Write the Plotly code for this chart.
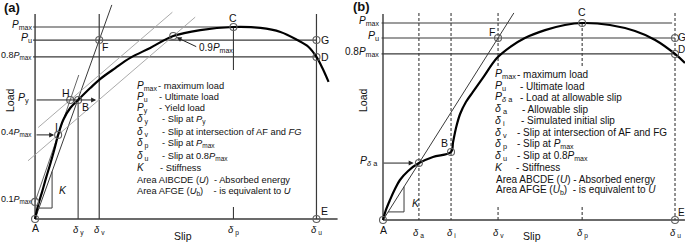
import plotly.graph_objects as go

# ---------------- Panel (a) data (schematic units: slip δu = 100, load Pmax = 100)
a_curve_slip = [0, 1.1, 2.5, 3.9, 5.3, 6.8, 8.2, 10.0, 12.5, 15.3, 19.6, 23.1, 28.5, 33.8,
                40.9, 49.1, 58.7, 70.5, 80.1, 87.2, 93.2, 97.2, 100, 102.1, 104.3]
a_curve_load = [0, 7.3, 14.1, 21.4, 28.1, 35.9, 43.8, 51.6, 57.8, 62.0, 68.2, 72.9, 78.6, 83.9,
                89.1, 95.3, 98.4, 100, 99.5, 97.4, 93.2, 89.6, 84.4, 78.6, 71.4]
a_load_levels = [100, 93.2, 84.4, 62.0, 43.8, 8.9, 95.3]   # Pmax, Pu, 0.8Pmax, Py, 0.4Pmax, 0.1Pmax, 0.9Pmax
a_slip_marks = [15.3, 22.8, 70.5, 100]                     # δy, δv, δp, δu
a_point_I = [8.2, 43.8]
a_point_H = [12.5, 62.0]

# ---------------- Panel (b) data
b_curve_slip = [0, 1.0, 2.4, 4.1, 5.8, 8.6, 12.3, 17.1, 23.3, 24.0, 25.0, 26.4, 28.4, 30.8,
                34.2, 39.0, 43.5, 48.6, 55.5, 62.3, 68.2, 77.7, 86.3, 93.2, 100, 103.4]
b_curve_load = [0, 5.1, 10.2, 15.7, 20.3, 24.9, 28.9, 32.0, 34.5, 39.6, 46.7, 53.8, 59.9, 65.0,
                72.1, 82.2, 87.8, 92.4, 96.4, 99.0, 100, 99.0, 95.9, 91.4, 84.3, 79.7]
b_load_levels = [100, 92.4, 84.3, 28.9]          # Pmax, Pu, 0.8Pmax, Pδa
b_slip_marks = [12.3, 23.3, 39.4, 68.2, 100]     # δa, δi, δv, δp, δu
b_point_B = [23.3, 34.5]

FONT = "Liberation Sans, Arial, sans-serif"
LINE = "#3a3a3a"
GRAY = "#a0a0a0"
MK = "#606060"

fig = go.Figure()
ann = []

def line(xs, ys, color=LINE, width=1.0, dash="solid", ax="x", ay="y"):
    fig.add_trace(go.Scatter(x=xs, y=ys, mode="lines", xaxis=ax, yaxis=ay,
                             line=dict(color=color, width=width, dash=dash),
                             hoverinfo="skip", showlegend=False))

def circles(xs, ys, ax="x", ay="y"):
    fig.add_trace(go.Scatter(x=xs, y=ys, mode="markers", xaxis=ax, yaxis=ay,
                             marker=dict(symbol="circle-open", size=7, color=MK, line=dict(width=1.1)),
                             hoverinfo="skip", showlegend=False))

def txt(x, y, s, xr="x", yr="y", size=10, xa="center", ya="middle", angle=0):
    ann.append(dict(x=x, y=y, xref=xr, yref=yr, text=s, showarrow=False, xanchor=xa,
                    yanchor=ya, textangle=angle, font=dict(family=FONT, size=size, color="#111")))

def arrow(x0, y0, x1, y1, xr="x", yr="y"):
    ann.append(dict(x=x1, y=y1, ax=x0, ay=y0, xref=xr, yref=yr, axref=xr, ayref=yr, text="",
                    showarrow=True, arrowhead=2, arrowsize=1, arrowwidth=1, arrowcolor="#222"))

# ================= Panel (a) =================
Pmax, Pu, P08, Py, P04, P01, P09 = a_load_levels
dy, dv, dp, du = a_slip_marks
F = (dv, Pu)
ytop_a = 106.8
line([0, 0], [0, ytop_a], width=1.4)
line([0, 107.5], [0, 0], width=1.4)
line([-0.7, dp], [Pmax, Pmax], width=1.2)
line([-0.7, du], [Pu, Pu], width=1.2)
line([-0.7, du], [P08, P08], width=1.2)
line([dy, dy], [Py, 0], width=1.1)
line([dv, dv], [ytop_a, 0], width=1.2)
line([dp, dp], [Pmax, 77.6], width=1.1)
line([dp, dp], [6.3, 0], width=1.1)
line([du, du], [ytop_a, 0], width=1.2)
k = F[1] / F[0]
line([0, 111.5 / k], [0, 111.5], width=1.0)
s1 = (a_point_I[1] - P01) / a_point_I[0]
line([0, (75 - P01) / s1], [P01, 75], color="#555", width=0.9)
s2 = (P09 - a_point_I[1]) / (a_curve_slip[15] - a_point_I[0])
xa0, xa1 = -2.5, 56.9
line([xa0, xa1], [a_point_I[1] + (xa0 - a_point_I[0]) * s2, a_point_I[1] + (xa1 - a_point_I[0]) * s2], color=GRAY, width=0.9)
xb0, xb1 = 1.1, 48.8
line([xb0, xb1], [a_point_H[1] + (xb0 - a_point_H[0]) * s2, a_point_H[1] + (xb1 - a_point_H[0]) * s2], color=GRAY, width=0.9)
kx, kyb = 6.05, 5.7
line([kyb / k, kx, kx], [kyb, kyb, kx * k], width=1.0)
fig.add_trace(go.Scatter(x=a_curve_slip, y=a_curve_load, mode="lines", line=dict(color="#000", width=2.2, shape="spline"),
                         hoverinfo="skip", showlegend=False))
circles([0, 0, a_point_I[0], a_point_H[0], dy, dv, a_curve_slip[15], dp, du, du, du],
        [0, P01, a_point_I[1], a_point_H[1], Py, Pu, P09, Pmax, Pu, P08, 0])
arrow(0, Py, 21.7, Py)
arrow(0, P04, 6.8, P04)
arrow(57.8, 89.4, 50.3, 94.6)
txt(57.6, 89.1, "0.9<i>P</i><sub>max</sub>", xa="left")
txt(-11.8, 109.9, "<b>(a)</b>", size=13, xa="left")
txt(-0.5, Pmax + 1, "<i>P</i><sub>max</sub>", xa="right", size=10)
txt(-0.5, Pu + 1, "<i>P</i><sub>u</sub>", xa="right", size=10.5)
txt(-0.4, P08 + 1, "0.8<i>P</i><sub>max</sub>", xa="right", size=9)
txt(-1.5, Py + 1, "<i>P</i><sub>y</sub>", xa="right", size=10.5)
txt(-0.4, P04 + 1, "0.4<i>P</i><sub>max</sub>", xa="right", size=9)
txt(-0.4, P01 + 1, "0.1<i>P</i><sub>max</sub>", xa="right", size=9)
txt(-8.9, 62, "Load", angle=-90, size=10.5)
txt(0, -4.7, "A", size=10.5)
txt(11.0, 65.6, "H", size=10.5)
txt(17.8, 58.3, "B", size=10.5)
txt(7.5, 47.9, "I", size=10.5)
txt(24.8, 89.8, "F", size=10.5)
txt(dp, 104.7, "C", size=10.5)
txt(101.0, Pu, "G", xa="left", size=10.5)
txt(101.0, P08, "D", xa="left", size=10.5)
txt(101.0, 4.2, "E", xa="left", size=10.5)
txt(7.8, 15.1, "<i>K</i>", xa="left", size=10.5)
for xv, lab in zip(a_slip_marks, ["y", "v", "p", "u"]):
    txt(xv, -5.8, f"<i>δ</i><sub> {lab}</sub>", size=9.5)
txt(52.7, -8.9, "Slip", size=10.5)
a_sym = ["<i>P</i><sub>max</sub>", "<i>P</i><sub>u</sub>", "<i>P</i><sub>y</sub>", "<i>δ</i><sub> y</sub>",
         "<i>δ</i><sub> v</sub>", "<i>δ</i><sub> p</sub>", "<i>δ</i><sub> u</sub>", "<i>K</i>"]
a_desc = ["- maximum load", "- Ultimate load", "- Yield load", "- Slip at <i>P</i><sub>y</sub>",
          "- Slip at intersection of AF and <i>FG</i>", "- Slip at <i>P</i><sub>max</sub>",
          "- Slip at 0.8<i>P</i><sub>max</sub>", "- Stiffness"]
a_desc_x = [43.0, 43.4, 43.4, 44.5, 44.5, 44.5, 44.5, 43.8]
a_rows = [69.3, 63.5, 57.8, 51.6, 45.3, 39.1, 32.8, 26.6, 20.3, 14.1]
for i in range(8):
    txt(35.6, a_rows[i], a_sym[i], xa="left", size=10)
    txt(a_desc_x[i], a_rows[i], a_desc[i], xa="left", size=9.3)
txt(35.6, a_rows[8], "Area AIBCDE (<i>U</i>)  - Absorbed energy", xa="left", size=9.3)
txt(35.6, a_rows[9], "Area AFGE (<i>U</i><sub>b</sub>)    - is equivalent to <i>U</i>", xa="left", size=9.3)

# ================= Panel (b) =================
bPmax, bPu, bP08, bPda = b_load_levels
da, di, bdv, bdp, bdu = b_slip_marks
ytop_b = 105.1
DASH = "3px,2px"
line([0, 0], [0, 104.6], width=1.4, ax="x2", ay="y2")
line([0, 103.4], [0, 0], width=1.4, ax="x2", ay="y2")
line([-0.5, 99], [bPmax, bPmax], width=1.2, ax="x2", ay="y2")
line([-0.5, bdu], [bPu, bPu], width=1.2, ax="x2", ay="y2")
line([-0.5, bdu], [bP08, bP08], width=1.2, ax="x2", ay="y2")
for xv in [da, di, bdu]:
    line([xv, xv], [ytop_b, 0], width=1.1, dash=DASH, ax="x2", ay="y2")
line([bdv, bdv], [ytop_b, 78.2], width=1.1, dash=DASH, ax="x2", ay="y2")
line([bdv, bdv], [6.6, 0], width=1.1, dash=DASH, ax="x2", ay="y2")
line([bdp, bdp], [bPmax, 78.2], width=1.1, dash=DASH, ax="x2", ay="y2")
line([bdp, bdp], [6.6, 0], width=1.1, dash=DASH, ax="x2", ay="y2")
kb = bPu / bdv
line([0, ytop_b / kb], [0, ytop_b], width=1.0, ax="x2", ay="y2")
kx2, kyb2 = 7.2, 4.1
line([kyb2 / kb, kx2, kx2], [kyb2, kyb2, kx2 * kb], width=1.0, ax="x2", ay="y2")
fig.add_trace(go.Scatter(x=b_curve_slip, y=b_curve_load, mode="lines", xaxis="x2", yaxis="y2",
                         line=dict(color="#000", width=2.2, shape="spline"), hoverinfo="skip", showlegend=False))
circles([0, da, b_point_B[0], bdv, bdp, bdu, bdu, bdu], [0, bPda, b_point_B[1], bPu, bPmax, bPu, bP08, 0], ax="x2", ay="y2")
arrow(-0.3, bPda, 10.5, bPda, xr="x2", yr="y2")
T = dict(xr="x2", yr="y2")
txt(-11.0, 108.3, "<b>(b)</b>", size=13, xa="left", **T)
txt(-0.8, bPmax + 1, "<i>P</i><sub>max</sub>", xa="right", size=10, **T)
txt(-0.8, bPu + 1, "<i>P</i><sub>u</sub>", xa="right", size=10.5, **T)
txt(-0.8, bP08 + 1, "0.8<i>P</i><sub>max</sub>", xa="right", size=10, **T)
txt(-1.2, bPda + 1, "<i>P</i><sub><i>δ</i> a</sub>", xa="right", size=10.5, **T)
txt(-6.8, 61, "Load", angle=-90, size=10.5, **T)
txt(0, -5.1, "A", size=10.5, **T)
txt(20.9, 39.3, "B", size=10.5, **T)
txt(bdp, 105.6, "C", size=10.5, **T)
txt(37.4, 95.6, "F", size=10.5, **T)
txt(100.2, bPu, "G", xa="left", size=10, **T)
txt(100.2, bP08 + 2.5, "D", xa="left", size=10, **T)
txt(100.2, 3.6, "E", xa="left", size=10, **T)
txt(9.4, 8.6, "<i>K</i>", xa="left", size=10.5, **T)
for xv, lab in zip(b_slip_marks, ["a", "i", "v", "p", "u"]):
    txt(xv, -6.6, f"<i>δ</i><sub> {lab}</sub>", size=9.5, **T)
txt(51, -8.1, "Slip", size=10.5, **T)
b_sym = ["<i>P</i><sub>max</sub>", "<i>P</i><sub>u</sub>", "<i>P</i><sub><i>δ</i> a</sub>", "<i>δ</i><sub> a</sub>",
         "<i>δ</i><sub> i</sub>", "<i>δ</i><sub> v</sub>", "<i>δ</i><sub> p</sub>", "<i>δ</i><sub> u</sub>", "<i>K</i>"]
b_desc = ["- maximum load", "- Ultimate load", "- Load at allowable slip", "- Allowable slip",
          "- Simulated initial slip", "- Slip at intersection of AF and FG", "- Slip at <i>P</i><sub>max</sub>",
          "- Slip at 0.8<i>P</i><sub>max</sub>", "- Stiffness"]
b_desc_x = [45.2, 46.2, 46.2, 46.9, 46.6, 45.2, 45.2, 45.2, 44.9]
b_rows = [74.1, 68.0, 62.4, 56.3, 50.3, 44.2, 38.6, 32.5, 26.9, 20.8, 15.2]
for i in range(9):
    txt(37.7, b_rows[i], b_sym[i], xa="left", size=10.5, **T)
    txt(b_desc_x[i], b_rows[i], b_desc[i], xa="left", size=10, **T)
txt(38.0, b_rows[9], "Area ABCDE (<i>U</i>) - Absorbed energy", xa="left", size=10, **T)
txt(38.0, b_rows[10], "Area AFGE (<i>U</i><sub>b</sub>)  - is equivalent to <i>U</i>", xa="left", size=10, **T)

ax_common = dict(visible=False, showgrid=False, zeroline=False, fixedrange=True)
fig.update_layout(
    width=685, height=242, margin=dict(l=0, r=0, t=0, b=0),
    paper_bgcolor="white", plot_bgcolor="white",
    xaxis=dict(domain=[0, 0.5], range=[-12.46, 109.25], **ax_common),
    yaxis=dict(domain=[0, 1], range=[-11.98, 114.06], **ax_common),
    xaxis2=dict(domain=[0.5, 1], range=[-13.87, 103.42], anchor="y2", **ax_common),
    yaxis2=dict(domain=[0, 1], range=[-11.17, 111.68], anchor="x2", **ax_common),
    annotations=ann, showlegend=False,
)
fig.write_html("out.html", config={"displayModeBar": False},
               post_script="document.body.style.margin='0px';document.body.style.overflow='hidden';")
